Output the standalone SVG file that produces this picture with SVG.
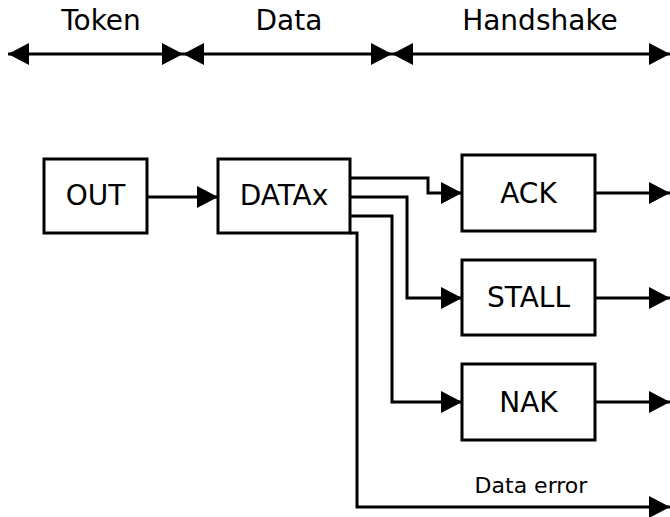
<svg xmlns="http://www.w3.org/2000/svg" width="670" height="517" viewBox="0 0 670 517">
  <defs>
    <marker id="arrow" markerUnits="userSpaceOnUse" markerWidth="21" markerHeight="22" refX="21" refY="11" orient="auto-start-reverse">
      <path d="M0,0 L21,11 L0,22 Z" fill="#000"/>
    </marker>
    <style>
      .box { fill: #fff; stroke: #000; stroke-width: 3; }
      .label { font-family: "DejaVu Sans", sans-serif; font-size: 28px; fill: #000; text-anchor: middle; }
      .small { font-family: "DejaVu Sans", sans-serif; font-size: 22px; fill: #000; text-anchor: middle; }
      .wire { fill: none; stroke: #000; stroke-width: 3; }
      .arr { marker-end: url(#arrow); }
      .both { marker-start: url(#arrow); marker-end: url(#arrow); }
    </style>
  </defs>
  <rect width="670" height="517" fill="#fff"/>

  <!-- phase ruler -->
  <g id="phases">
    <text class="label" x="101" y="30">Token</text>
    <text class="label" x="289" y="30">Data</text>
    <text class="label" x="540" y="30">Handshake</text>
    <path class="wire both" d="M8,54 H183"/>
    <path class="wire both" d="M183,54 H392"/>
    <path class="wire both" d="M392,54 H670"/>
  </g>

  <!-- connectors -->
  <g id="connectors">
    <path class="wire arr" d="M147,197 H218"/>
    <path class="wire arr" d="M350,178 H428 V193 H462"/>
    <path class="wire arr" d="M350,197 H407 V298 H462"/>
    <path class="wire arr" d="M350,216 H392 V402 H462"/>
    <path class="wire arr" d="M350,233 H357 V507 H670"/>
    <path class="wire arr" d="M595,193 H670"/>
    <path class="wire arr" d="M595,298 H670"/>
    <path class="wire arr" d="M595,402 H670"/>
    <text class="small" x="531" y="493">Data error</text>
  </g>

  <g id="out">
    <rect class="box" x="44" y="159" width="103" height="74"/>
    <text class="label" x="95.5" y="205">OUT</text>
  </g>
  <g id="datax">
    <rect class="box" x="218" y="159" width="132" height="74"/>
    <text class="label" x="284" y="205">DATAx</text>
  </g>
  <g id="ack">
    <rect class="box" x="462" y="155" width="133" height="76"/>
    <text class="label" x="528.5" y="203">ACK</text>
  </g>
  <g id="stall">
    <rect class="box" x="462" y="260" width="133" height="75"/>
    <text class="label" x="528.5" y="307">STALL</text>
  </g>
  <g id="nak">
    <rect class="box" x="462" y="364" width="133" height="76"/>
    <text class="label" x="528.5" y="412">NAK</text>
  </g>
</svg>
